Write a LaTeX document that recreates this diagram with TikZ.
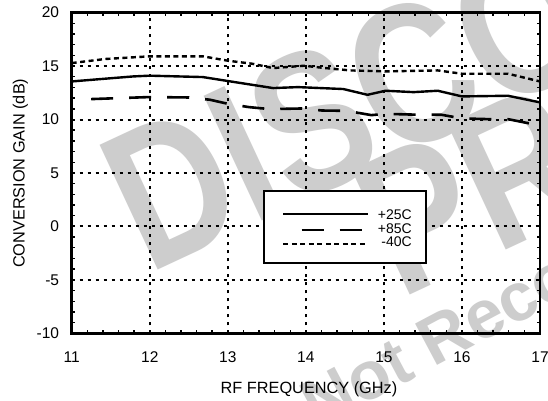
\documentclass[tikz,border=0pt]{standalone}
\usepackage{fontspec}
\setmainfont{Liberation Sans}
\definecolor{wm}{RGB}{205,205,205}
\tikzset{
  gridln/.style={line width=2pt, dash pattern=on 3pt off 5pt},
  frameln/.style={line width=2.8pt},
  tickln/.style={line width=1.4pt},
  solidc/.style={line width=2.4pt, line join=round},
  dashc/.style={line width=2.6pt, line join=round, dash pattern=on 22pt off 16pt},
  dotc/.style={line width=2.4pt, line join=round, dash pattern=on 5pt off 3.5pt},
  ticklbl/.style={font=\fontsize{15.5}{18}\selectfont, inner sep=0pt},
  titlelbl/.style={font=\fontsize{16.3}{19}\selectfont, inner sep=0pt},
  leglbl/.style={font=\fontsize{14}{16}\selectfont, inner sep=0pt, anchor=base east},
  wmtext/.style={text=wm, inner sep=0pt, anchor=base west}
}
\begin{document}
\begin{tikzpicture}[x=1pt,y=1pt]
\useasboundingbox (0,0) rectangle (548,400);
\begin{scope}
\clip (0,0) rectangle (548,400);
\fill[white] (0,0) rectangle (548,400);
% watermark
\node[wmtext, rotate=25, xscale=0.8, font=\fontsize{200}{200}\bfseries\selectfont] (wm1) at (148,125.4) {DISCO};
\node[wmtext, rotate=25, xscale=0.8, font=\fontsize{200}{200}\bfseries\selectfont] (wm2) at (400,100) {PRO};
\node[wmtext, rotate=28, font=\fontsize{68}{68}\bfseries\selectfont] (wm3) at (317,-30) {Not Reco};
\end{scope}
% data scope
\begin{scope}[xshift=-786.85pt, yshift=173.6pt, x=78.05pt, y=10.69pt]
  % grid
  \foreach \f in {12,...,16} \draw[gridln] (\f,-10) -- (\f,20);
  \foreach \g in {-5,0,...,15} \draw[gridln] (11,\g) -- (17,\g);
  % minor ticks
  \foreach \i in {1,...,29} {
    \draw[tickln] (11+\i/5,-10) -- ++(0,3pt);
    \draw[tickln] (11+\i/5,20) -- ++(0,-3pt);
  }
  \foreach \g in {-9,...,19} {
    \draw[tickln] (11,\g) -- ++(3pt,0);
    \draw[tickln] (17,\g) -- ++(-3pt,0);
  }
  % frame
  \draw[frameln] (11,-10) rectangle (17,20);
  % tick labels
  \foreach \f in {11,...,17} \node[ticklbl, anchor=base] (xl\f) at ([yshift=-29.2pt]\f,-10) {\f};
  \foreach \g in {-10,-5,0,5,10,15,20} \node[ticklbl, anchor=east] (yl\g) at ([xshift=-12.4pt]11,\g) {\g};
  % curves
  \draw[dotc] plot coordinates {(11.0,15.28) (11.43,15.66) (12.0,15.91) (12.68,15.91) (13.0,15.5) (13.31,15.22) (13.58,14.81) (13.98,15.03) (14.21,14.84) (14.57,14.59) (15.02,14.5) (15.69,14.59) (16.0,14.28) (16.59,14.28) (17.0,13.56)};
  \draw[solidc] plot coordinates {(11.0,13.56) (11.4,13.8) (11.79,14.03) (12.0,14.1) (12.68,13.97) (13.0,13.6) (13.58,12.94) (13.9,13.03) (14.48,12.85) (14.79,12.31) (15.02,12.69) (15.38,12.56) (15.69,12.69) (16.0,12.16) (16.59,12.22) (17.0,11.6)};
  \draw[dashc] plot coordinates {(11.25,11.91) (12.0,12.1) (12.5,12.06) (12.77,11.85) (13.0,11.47) (13.27,11.16) (13.54,10.97) (13.94,11.03) (14.21,10.84) (14.52,10.81) (14.84,10.41) (15.02,10.53) (15.47,10.44) (15.74,10.44) (16.0,10.1) (16.36,10.03) (16.59,10.03) (17.0,9.44)};
\end{scope}
% legend
\draw[line width=1.8pt, fill=white] (264,136.7) rectangle (425.7,209.3);
\coordinate (s1) at (283.3,186); \coordinate (s2) at (368.3,186);
\coordinate (d1) at (301.7,170); \coordinate (d2) at (362.7,170);
\coordinate (o1) at (283.3,156); \coordinate (o2) at (365,156);
\draw[solidc] (s1) -- (s2);
\draw[dashc] (d1) -- (d2);
\draw[dotc] (o1) -- (o2);
\node[leglbl] (l25) at (412,180.7) {+25C};
\node[leglbl] (l85) at (412,166.7) {+85C};
\node[leglbl] (l40) at (412,153.3) {-40C};
% axis titles
\node[titlelbl, anchor=base] (xt) at (309,6.7) {RF FREQUENCY (GHz)};
\node[titlelbl, rotate=90] (yt) at (20.5,226.7) {CONVERSION GAIN (dB)};
\end{tikzpicture}
\end{document}
